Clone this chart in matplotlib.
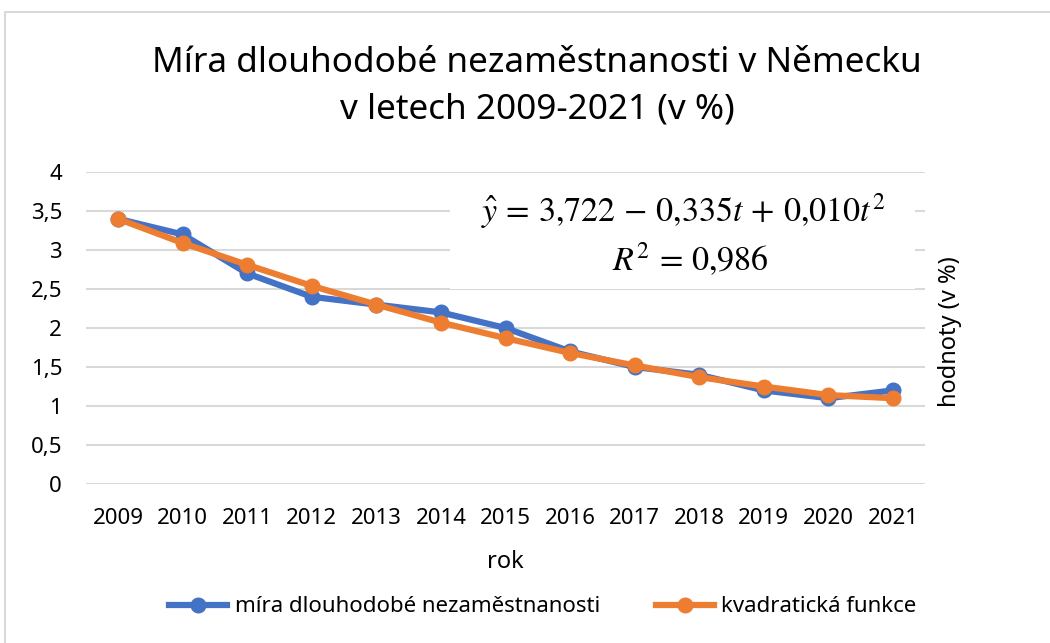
import matplotlib
matplotlib.use('Agg')
import matplotlib.pyplot as plt
from matplotlib.patches import Rectangle
from matplotlib.lines import Line2D

plt.rcParams['font.family'] = ['Noto Sans', 'DejaVu Sans']
plt.rcParams['mathtext.fontset'] = 'stix'

years = ['2009', '2010', '2011', '2012', '2013', '2014', '2015',
         '2016', '2017', '2018', '2019', '2020', '2021']
mira = [3.4, 3.2, 2.7, 2.4, 2.3, 2.2, 2.0, 1.7, 1.5, 1.4, 1.2, 1.1, 1.2]
kvadr = [3.40, 3.09, 2.81, 2.54, 2.30, 2.07, 1.87, 1.68, 1.52, 1.37, 1.25, 1.14, 1.10]
y_ticks = [0, 0.5, 1, 1.5, 2, 2.5, 3, 3.5, 4]
y_labels = ['0', '0,5', '1', '1,5', '2', '2,5', '3', '3,5', '4']

blue = '#4472C4'
orange = '#ED7D31'
W, H = 1050, 643

fig = plt.figure(figsize=(W / 100, H / 100), dpi=100)
# chart border (light gray, cut off on right/bottom)
fig.patches.append(Rectangle((5 / W, -0.1), 1.2, 1 - 12 / H + 0.1,
                             transform=fig.transFigure, fill=False,
                             ec='#d9d9d9', lw=1.5))

ax = fig.add_axes([85.7 / W, 1 - 484 / H, 839.6 / W, 312 / H])
x = list(range(len(years)))
ax.plot(x, mira, color=blue, lw=4.5, marker='o', ms=10.5, zorder=3,
        solid_capstyle='round')
ax.plot(x, kvadr, color=orange, lw=4.5, marker='o', ms=10.5, zorder=4,
        solid_capstyle='round')

ax.set_xlim(-0.5, len(years) - 0.5)
ax.set_ylim(0, 4)
ax.set_xticks(x)
ax.set_xticklabels(years)
ax.set_yticks(y_ticks)
ax.set_yticklabels(y_labels)
ax.tick_params(length=0, labelsize=16, colors='black')
ax.tick_params(axis='x', pad=17)
ax.tick_params(axis='y', pad=17)
ax.grid(axis='y', color='#d9d9d9', lw=1.5)
ax.set_axisbelow(True)
for s in ax.spines.values():
    s.set_visible(False)

# white box behind the regression equation
ax.add_patch(Rectangle((0.434, 0.625), 0.554, 0.333, transform=ax.transAxes,
                       fc='white', ec='none', zorder=1))
fig.text(683 / W, 1 - 211 / H,
         r'$\hat{y}\,=\,3{,}722\,-\,0{,}335t\,+\,0{,}010t^2$',
         fontsize=24.5, ha='center', va='center')
fig.text(690 / W, 1 - 260 / H, r'$R^2\,=\,0{,}986$',
         fontsize=24.5, ha='center', va='center')

fig.text(537 / W, 1 - 63 / H,
         'Míra dlouhodobé nezaměstnanosti v Německu',
         fontsize=25.3, ha='center', va='center')
fig.text(537 / W, 1 - 110 / H,
         'v letech 2009-2021 (v %)',
         fontsize=25.3, ha='center', va='center')

fig.text(505 / W, 1 - 562 / H, 'rok', fontsize=17, ha='center', va='center')
fig.text(950 / W, 1 - 332 / H, 'hodnoty (v %)', fontsize=17,
         rotation=90, ha='center', va='center')

handles = [Line2D([], [], color=blue, lw=4.5, marker='o', ms=10.5),
           Line2D([], [], color=orange, lw=4.5, marker='o', ms=10.5)]
fig.legend(handles, ['míra dlouhodobé nezaměstnanosti', 'kvadratická funkce'],
           loc='center', bbox_to_anchor=(543 / W, 1 - 607 / H), ncol=2,
           frameon=False, fontsize=16, handlelength=2.6, handletextpad=0.35,
           columnspacing=2.5)

fig.savefig('out.png', dpi=100)
